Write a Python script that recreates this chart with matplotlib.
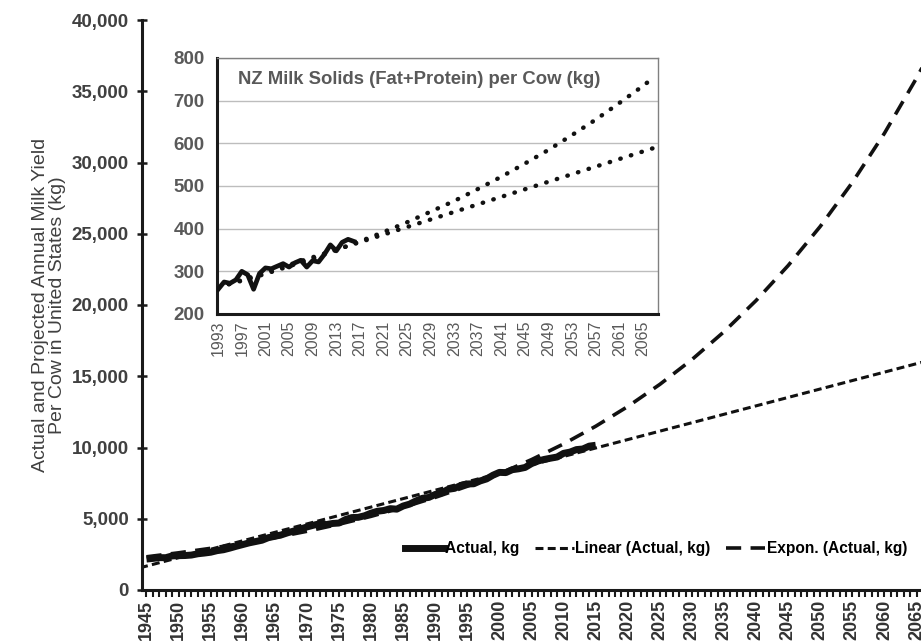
import matplotlib
matplotlib.use("Agg")
import matplotlib.pyplot as plt
from matplotlib.ticker import MultipleLocator, FuncFormatter
from matplotlib.lines import Line2D

plt.rcParams['font.family'] = ['Liberation Sans', 'DejaVu Sans']

# US annual milk yield per cow (kg), 1945-2015
us_years = list(range(1945, 2016))
us_kg = [2171, 2216, 2271, 2267, 2392, 2410, 2419, 2452, 2542, 2591,
         2650, 2761, 2825, 2941, 3070, 3188, 3307, 3400, 3493, 3674,
         3767, 3866, 4015, 4144, 4279, 4423, 4543, 4653, 4590, 4669,
         4699, 4942, 5083, 5100, 5211, 5394, 5526, 5582, 5709, 5673,
         5894, 6026, 6253, 6434, 6497, 6705, 6818, 7063, 7132, 7339,
         7441, 7454, 7653, 7795, 8057, 8254, 8238, 8441, 8505, 8600,
         8868, 9050, 9165, 9252, 9333, 9590, 9677, 9853, 9896, 10097,
         10157]

# trendlines
lin_years = [1944, 2066]
lin_kg = [1560, 16000]
exp_years = [1945, 1950, 1955, 1960, 1965, 1970, 1975, 1980, 1985, 1990,
             1995, 2000, 2005, 2010, 2015, 2020, 2025, 2030, 2035, 2040,
             2045, 2050, 2055, 2060, 2065, 2067]
exp_kg = [2330, 2610, 2925, 3280, 3675, 4120, 4615, 5170, 5800, 6500,
          7280, 8160, 9150, 10250, 11490, 12875, 14430, 16170, 18125, 20315,
          22770, 25515, 28600, 32050, 35920, 37600]

# NZ milk solids per cow (kg), inset
nz_years = list(range(1993, 2017))
nz_kg = [258, 275, 272, 280, 300, 292, 258, 295, 308, 306, 312, 318,
         310, 320, 326, 310, 325, 322, 340, 362, 348, 368, 375, 370]
nz_lin_years = [1993, 2067]
nz_lin_kg = [262, 590]
nz_exp_years = [1993, 1997, 2001, 2005, 2009, 2013, 2017, 2021, 2025, 2029,
                2033, 2037, 2041, 2045, 2049, 2053, 2057, 2061, 2065, 2067]
nz_exp_kg = [263, 278, 294, 312, 330, 350, 370, 392, 415, 440,
             465, 493, 522, 553, 585, 620, 656, 695, 735, 757]

W, H = 921, 642
fig = plt.figure(figsize=(W / 100, H / 100), dpi=100)
ax = fig.add_axes([142 / W, 1 - 590 / H, 1 - 142 / W, 570 / H])

ax.plot(lin_years, lin_kg, color='#111111', lw=2.2, dashes=(2.6, 1.4),
        label='Linear (Actual, kg)', zorder=2)
ax.plot(exp_years, exp_kg, color='#111111', lw=2.6, dashes=(4.2, 2.6),
        label='Expon. (Actual, kg)', zorder=2)
ax.plot(us_years, us_kg, color='#111111', lw=5, label='Actual, kg', zorder=3,
        solid_capstyle='butt')

ax.set_xlim(1944.3, 2065.7)
ax.set_ylim(0, 40000)
ax.xaxis.set_major_locator(MultipleLocator(5))
ax.xaxis.set_minor_locator(MultipleLocator(1))
ax.yaxis.set_major_locator(MultipleLocator(5000))
ax.yaxis.set_major_formatter(FuncFormatter(lambda v, p: f'{int(v):,}'))

for s in ['top', 'right']:
    ax.spines[s].set_visible(False)
for s in ['left', 'bottom']:
    ax.spines[s].set_linewidth(2.2)
    ax.spines[s].set_color('#1a1a1a')

ax.tick_params(axis='x', which='both', direction='out', length=5, width=1.5,
               color='#1a1a1a', labelrotation=90, labelsize=13, pad=2,
               labelcolor='#333333')
ax.tick_params(axis='y', direction='inout', length=7, width=1.8, color='#1a1a1a',
               labelsize=13.5, labelcolor='#404040', pad=6)
for lab in ax.get_xticklabels() + ax.get_yticklabels():
    lab.set_fontweight('bold')

ax.set_ylabel('Actual and Projected Annual Milk Yield\nPer Cow in United States (kg)',
              fontsize=14, color='#404040', labelpad=4, linespacing=1.0)

handles = [Line2D([], [], color='#111111', lw=5),
           Line2D([], [], color='#111111', lw=2.2, dashes=(2.6, 1.4)),
           Line2D([], [], color='#111111', lw=2.6, dashes=(4.2, 2.6))]
leg = ax.legend(handles, ['Actual, kg', 'Linear (Actual, kg)', 'Expon. (Actual, kg)'],
                loc='center right', bbox_to_anchor=(1.0, 0.072), ncol=3,
                frameon=False, handlelength=2.5, handletextpad=0.1,
                columnspacing=1.0, prop={'weight': 'bold', 'size': 11.2})

# inset chart
left, right, top, bottom = 217, 658, 58, 314
ins = fig.add_axes([left / W, 1 - bottom / H, (right - left) / W, (bottom - top) / H])
ins.set_facecolor('white')
ins.plot(nz_lin_years, nz_lin_kg, color='#111111', lw=3.2, linestyle=(0, (0.1, 2.4)),
         dash_capstyle='round', zorder=2)
ins.plot(nz_exp_years, nz_exp_kg, color='#111111', lw=3.2, linestyle=(0, (0.1, 2.4)),
         dash_capstyle='round', zorder=2)
ins.plot(nz_years, nz_kg, color='#111111', lw=3.4, zorder=3)

ins.set_xlim(1992.8, 2067.5)
ins.set_ylim(200, 800)
ins.set_xticks(list(range(1993, 2066, 4)))
ins.yaxis.set_major_locator(MultipleLocator(100))
ins.grid(axis='y', color='#bdbdbd', lw=1)
ins.set_axisbelow(True)
ins.tick_params(axis='x', length=0, labelrotation=90, labelsize=11.5,
                labelcolor='#595959', pad=5)
ins.tick_params(axis='y', length=0, labelsize=13.5, labelcolor='#595959', pad=9)
for lab in ins.get_yticklabels():
    lab.set_fontweight('bold')
for s in ['left', 'bottom']:
    ins.spines[s].set_linewidth(2.2)
    ins.spines[s].set_color('#1a1a1a')
for s in ['top', 'right']:
    ins.spines[s].set_linewidth(1.0)
    ins.spines[s].set_color('#808080')
ins.text(0.048, 0.915, 'NZ Milk Solids (Fat+Protein) per Cow (kg)', transform=ins.transAxes,
         fontsize=13.3, fontweight='bold', color='#595959', va='center', ha='left')

fig.savefig('out.png', dpi=100)
